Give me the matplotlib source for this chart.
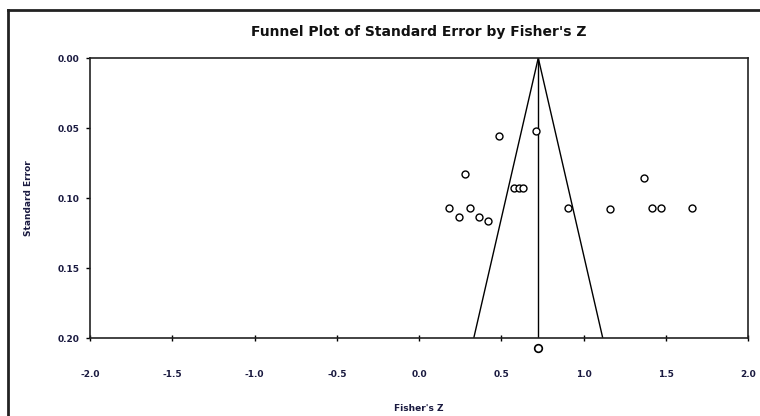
import numpy as np
import matplotlib.pyplot as plt
from matplotlib.lines import Line2D

# study effects (Fisher's Z) and standard errors
fisher_z = [0.489, 0.711, 0.282, 1.369, 0.580, 0.608, 0.630, 0.185, 0.307,
            0.242, 0.363, 0.418, 0.907, 1.160, 1.419, 1.470, 1.662]
std_err = [0.0555, 0.0524, 0.0828, 0.0856, 0.0927, 0.0927, 0.0927, 0.107, 0.107,
           0.1137, 0.1137, 0.1165, 0.107, 0.108, 0.107, 0.107, 0.107]
combined_z = 0.725
combined_se = 0.207
x_ticks = [-2.0, -1.5, -1.0, -0.5, 0.0, 0.5, 1.0, 1.5, 2.0]
y_ticks = [0.00, 0.05, 0.10, 0.15, 0.20]

plt.rcParams['font.family'] = ['DejaVu Sans']

fig = plt.figure(figsize=(7.6, 4.16), dpi=100)
ax = fig.add_axes([90/760, 78/416, 658/760, 280/416])

# funnel (95% limits) and the mean line
se_max = 0.20
ax.plot([combined_z, combined_z - 1.96*se_max], [0, se_max], color='black', lw=1)
ax.plot([combined_z, combined_z + 1.96*se_max], [0, se_max], color='black', lw=1)
ax.plot([combined_z, combined_z], [0, se_max], color='black', lw=1)

ax.plot(fisher_z, std_err, 'o', ms=5, mfc='white', mec='black', mew=1)
ax.plot([combined_z], [combined_se], 'o', ms=5.5, mfc='white', mec='black', mew=1.2,
        clip_on=False)

ax.set_xlim(-2.0, 2.0)
ax.set_ylim(0.20, 0.00)
ax.set_xticks(x_ticks)
ax.set_xticklabels(['%.1f' % v for v in x_ticks])
ax.set_yticks(y_ticks)
ax.set_yticklabels(['%.2f' % v for v in y_ticks])

lab_col = '#1a1a40'
ax.tick_params(axis='x', direction='inout', length=4, width=1, pad=21,
               labelsize=6.5, labelcolor=lab_col)
ax.tick_params(axis='y', direction='out', length=3, width=1, pad=4.5,
               labelsize=6.5, labelcolor=lab_col)
for t in ax.get_xticklabels() + ax.get_yticklabels():
    t.set_fontweight('bold')
for s in ax.spines.values():
    s.set_linewidth(1.2)
    s.set_color('#222222')

ax.set_xlabel("Fisher's Z", fontsize=6.5, fontweight='bold', color=lab_col, labelpad=18)
ax.set_ylabel('Standard Error', fontsize=6.5, fontweight='bold', color=lab_col, labelpad=18)
ax.set_title("Funnel Plot of Standard Error by Fisher's Z", fontsize=10,
             fontweight='bold', color='#111111', pad=16)

# outer frame, left and top only
fig.add_artist(Line2D([7.5/760, 7.5/760], [0, 1 - 9.5/416], color='#222222', lw=2,
                      transform=fig.transFigure))
fig.add_artist(Line2D([7.5/760, 1], [1 - 9.5/416, 1 - 9.5/416], color='#222222', lw=2,
                      transform=fig.transFigure))

fig.savefig('out.png', dpi=100)
